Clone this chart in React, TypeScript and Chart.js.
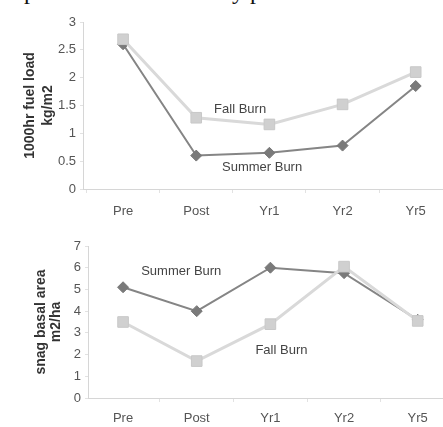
import React, { useEffect, useRef } from 'react';
import { Chart, registerables } from 'chart.js';
Chart.register(...registerables);

const categories = ['Pre', 'Post', 'Yr1', 'Yr2', 'Yr5'];
const fuelSummer = [2.6, 0.6, 0.65, 0.78, 1.85];
const fuelFall = [2.69, 1.28, 1.16, 1.52, 2.1];
const snagSummer = [5.1, 4.0, 6.0, 5.75, 3.6];
const snagFall = [3.5, 1.7, 3.4, 6.05, 3.55];
const fuelTitle = ['1000hr fuel load', 'kg/m2'];
const snagTitle = ['snag basal area', 'm2/ha'];
const summerName = 'Summer Burn';
const fallName = 'Fall Burn';

const FONT = "'Liberation Sans', Arial, sans-serif";
const CANVAS_W = 452;

const notesPlugin = {
  id: 'notes',
  afterDatasetsDraw(chart: any, _args: any, opts: any) {
    const { ctx, scales } = chart;
    const x = scales.x;
    const y = scales.y;
    ctx.save();
    ctx.font = `13px ${FONT}`;
    ctx.fillStyle = '#444';
    ctx.textAlign = 'center';
    ctx.textBaseline = 'middle';
    for (const n of opts.items || []) {
      ctx.fillText(n.text, x.getPixelForValue(n.x), y.getPixelForValue(n.y));
    }
    ctx.restore();
  },
};

type Spec = {
  summer: number[];
  fall: number[];
  yMax: number;
  yStep: number;
  title: string[];
  titleLineHeight: number;
  titlePad: number;
  axisLeft: number;
  xMin: number;
  xMax: number;
  areaTop: number;
  xHeight: number;
  labelPad: number;
  notes: { text: string; x: number; y: number }[];
};

function makeConfig(s: Spec): any {
  const pts = (arr: number[]) => arr.map((v, i) => ({ x: i, y: v }));
  return {
    type: 'line',
    data: {
      datasets: [
        {
          label: fallName,
          data: pts(s.fall),
          order: 0,
          borderColor: '#d9d9d9',
          borderWidth: 3,
          backgroundColor: '#cfcfcf',
          pointStyle: 'rect',
          pointRadius: 7.5,
          pointBorderColor: '#c8c8c8',
          pointBorderWidth: 1,
          pointBackgroundColor: '#d0d0d0',
        },
        {
          label: summerName,
          data: pts(s.summer),
          order: 1,
          borderColor: '#858585',
          borderWidth: 2,
          backgroundColor: '#777',
          pointStyle: 'rectRot',
          pointRadius: 5.5,
          pointBorderColor: '#777',
          pointBorderWidth: 1,
          pointBackgroundColor: '#7a7a7a',
        },
      ],
    },
    options: {
      responsive: false,
      animation: false,
      layout: { padding: { top: s.areaTop, left: 0, right: 0, bottom: 0 } },
      plugins: {
        legend: { display: false },
        tooltip: { enabled: false },
        notes: { items: s.notes },
      },
      scales: {
        x: {
          type: 'linear',
          min: s.xMin,
          max: s.xMax,
          afterBuildTicks: (sc: any) => {
            sc.ticks = categories.map((_, i) => ({ value: i }));
          },
          afterFit: (sc: any) => {
            sc.height = s.xHeight;
            sc.paddingLeft = 0;
            sc.paddingRight = 0;
          },
          ticks: {
            autoSkip: false,
            maxRotation: 0,
            padding: s.labelPad,
            color: '#555',
            font: { family: FONT, size: 13 },
            callback: (v: number) => categories[v] ?? '',
          },
          grid: {
            offset: true,
            drawOnChartArea: false,
            drawTicks: true,
            tickLength: 4,
            color: '#e2e2e2',
          },
          border: { color: '#d6d6d6', width: 1 },
        },
        y: {
          min: 0,
          max: s.yMax,
          afterFit: (sc: any) => {
            sc.width = s.axisLeft;
          },
          ticks: {
            stepSize: s.yStep,
            padding: 4,
            color: '#555',
            font: { family: FONT, size: 13 },
            callback: (v: number) => String(v),
          },
          grid: {
            drawOnChartArea: false,
            drawTicks: true,
            tickLength: 3,
            color: '#e2e2e2',
          },
          border: { color: '#d6d6d6', width: 1 },
          title: {
            display: true,
            text: s.title,
            color: '#333',
            font: { family: FONT, size: 14, weight: 'bold', lineHeight: `${s.titleLineHeight}px` },
            padding: { top: s.titlePad, bottom: 0 },
          },
        },
      },
    },
    plugins: [notesPlugin],
  };
}

function ChartCanvas({ spec, top, height }: { spec: Spec; top: number; height: number }) {
  const ref = useRef<HTMLCanvasElement | null>(null);
  useEffect(() => {
    if (!ref.current) return;
    const chart = new Chart(ref.current, makeConfig(spec));
    return () => chart.destroy();
  }, []);
  return (
    <canvas
      ref={ref}
      width={CANVAS_W}
      height={height}
      style={{ position: 'absolute', left: 0, top, width: CANVAS_W, height, filter: 'blur(0.4px)' }}
    />
  );
}

const fuelSpec: Spec = {
  summer: fuelSummer,
  fall: fuelFall,
  yMax: 3,
  yStep: 0.5,
  title: fuelTitle,
  titleLineHeight: 18,
  titlePad: 21,
  axisLeft: 83,
  xMin: -0.548,
  xMax: 4.38,
  areaTop: 22,
  xHeight: 33,
  labelPad: 11,
  notes: [
    { text: fallName, x: 1.6, y: 1.43 },
    { text: summerName, x: 1.9, y: 0.39 },
  ],
};

const snagSpec: Spec = {
  summer: snagSummer,
  fall: snagFall,
  yMax: 7,
  yStep: 1,
  title: snagTitle,
  titleLineHeight: 15,
  titlePad: 34,
  axisLeft: 88,
  xMin: -0.476,
  xMax: 4.35,
  areaTop: 31,
  xHeight: 29,
  labelPad: 9,
  notes: [
    { text: summerName, x: 0.79, y: 5.81 },
    { text: fallName, x: 2.15, y: 2.2 },
  ],
};

export default function App() {
  return (
    <div
      style={{
        position: 'absolute',
        left: 0,
        top: 0,
        width: 443,
        height: 427,
        overflow: 'hidden',
        background: '#fff',
      }}
    >
      <span
        style={{
          position: 'absolute',
          left: 24,
          top: -21,
          font: "24px 'Liberation Serif', serif",
          lineHeight: '24px',
          color: '#111',
        }}
      >
        p
      </span>
      <span
        style={{
          position: 'absolute',
          left: 232,
          top: -21,
          font: "24px 'Liberation Serif', serif",
          lineHeight: '24px',
          color: '#111',
        }}
      >
        y p
      </span>
      <ChartCanvas spec={fuelSpec} top={0} height={222} />
      <ChartCanvas spec={snagSpec} top={215} height={212} />
    </div>
  );
}
